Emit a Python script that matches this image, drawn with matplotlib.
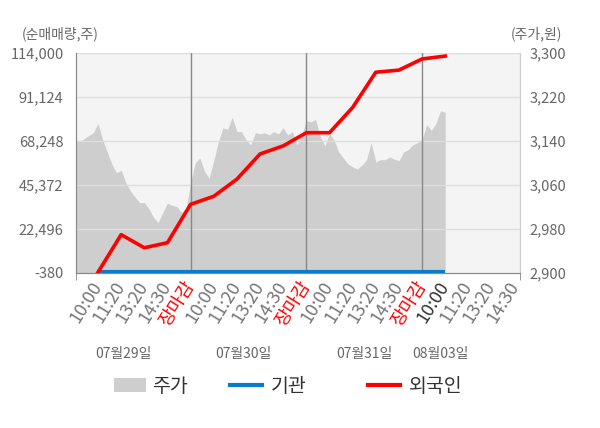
import numpy as np
import matplotlib
matplotlib.use("Agg")
import matplotlib.pyplot as plt
from matplotlib.patches import Rectangle
from matplotlib.lines import Line2D

# ================================
# DATA
# ================================
# x axis in "slots": one slot per time label, a trading day is 5 slots
tick_labels = ["10:00", "11:20", "13:20", "14:30", "장마감",
               "10:00", "11:20", "13:20", "14:30", "장마감",
               "10:00", "11:20", "13:20", "14:30", "장마감",
               "10:00", "11:20", "13:20", "14:30"]
day_labels = ["07월29일", "07월30일", "07월31일", "08월03일"]

# cumulative net buying (shares), one value per time label
foreign = [0, 19560, 12740, 15360, 35300, 39500, 48400, 61500, 65700,
           72550, 72550, 85700, 104000, 105100, 110900, 112400]
institution = [0] * 16

# intraday price (won), sampled every 0.2 slot
price = [3144, 3139, 3144, 3150, 3155, 3172, 3142, 3120, 3098, 3082,
         3087, 3065, 3049, 3038, 3028, 3028, 3017, 3001, 2992, 3010,
         3027, 3023, 3021, 3010, 3017,
         3063, 3100, 3109, 3085, 3072, 3104, 3139, 3164, 3161, 3183,
         3157, 3157, 3142, 3133, 3155, 3153, 3155, 3151, 3157, 3153,
         3164, 3151, 3157, 3133, 3151,
         3177, 3175, 3179, 3148, 3131, 3153, 3142, 3120, 3109, 3098,
         3093, 3089, 3096, 3106, 3137, 3102, 3106, 3106, 3111, 3107,
         3104, 3120, 3124, 3133, 3137,
         3142, 3170, 3159, 3172, 3195, 3192]

left_ticks = [-380, 22496, 45372, 68248, 91124, 114000]
right_ticks = [2900, 2980, 3060, 3140, 3220, 3300]

# ================================
# STYLE
# ================================
plt.rcParams['font.family'] = ['Noto Sans CJK KR', 'DejaVu Sans']
GRAY_TXT = "#666666"
RED = "#ff0000"
BLUE = "#0a7ccc"
AREA = "#cecece"
W, H = 600, 428


def fx(px):
    return px / W


def fy(py):
    return 1 - py / H


def main():
    fig = plt.figure(figsize=(6, 4.28), dpi=100)
    ax = fig.add_axes([fx(76), fy(273), 444 / W, 220 / H])
    ax2 = ax.twinx()
    # lines axis on top, price axis (with background) below
    ax.set_zorder(ax2.get_zorder() + 1)
    ax.patch.set_visible(False)
    ax2.patch.set_visible(True)
    ax2.set_facecolor("#f4f4f4")

    # price area (right axis)
    px = np.arange(len(price)) * 0.2
    ax2.fill_between(px, price, 2900, color=AREA, linewidth=0)
    ax2.set_ylim(2900, 3300)

    # net buying lines (left axis)
    lx = np.arange(1, len(foreign) + 1)
    for y in left_ticks[1:]:
        ax.axhline(y, color="#dddddd", linewidth=1, zorder=1)
    for d in [5, 10, 15]:
        ax.axvline(d, color="#888888", linewidth=1, zorder=2)
    ax.plot(lx, institution, color=BLUE, linewidth=3, zorder=3,
            solid_capstyle="butt")
    ax.plot(lx, foreign, color=RED, linewidth=2.6, zorder=4)
    ax.set_ylim(-380, 114000)
    ax.set_xlim(0.05, 19.23)

    ax.set_yticks(left_ticks)
    ax.set_yticklabels([f"{v:,}" for v in left_ticks])
    ax2.set_yticks(right_ticks)
    ax2.set_yticklabels([f"{v:,}" for v in right_ticks])
    ax.tick_params(axis="y", length=0, pad=9, labelsize=10.5,
                   labelcolor=GRAY_TXT)
    ax2.tick_params(axis="y", length=0, pad=7, labelsize=10.5,
                    labelcolor=GRAY_TXT)

    # x axis
    ax.set_xticks(range(1, len(tick_labels) + 1))
    ax.tick_params(axis="x", length=0, pad=7)
    ax.set_xticklabels(tick_labels, rotation=58, ha="right", va="center",
                       rotation_mode="anchor", fontsize=13)
    for i, t in enumerate(ax.get_xticklabels()):
        if tick_labels[i] == "장마감":
            t.set_color(RED)
        elif i == 15:
            t.set_color("#333333")
        else:
            t.set_color("#777777")
    ax.set_xticks([0.05, 5, 10, 15, 19.23], minor=True)
    ax.tick_params(axis="x", which="minor", length=5, color="#888888")

    for a in (ax, ax2):
        a.spines["top"].set_visible(False)
        a.spines["left"].set_color("#888888")
        a.spines["right"].set_color("#cccccc")
        a.spines["bottom"].set_color("#888888")

    # day labels under the ticks
    for xd, lab in zip([2.1, 7.3, 12.5, 15.8], day_labels):
        ax.text(xd, -0.37, lab, transform=ax.get_xaxis_transform(),
                ha="center", va="center", fontsize=10, color=GRAY_TXT)

    # axis captions
    fig.text(fx(22), fy(34), "(순매매량,주)", ha="left", va="center",
             fontsize=10, color=GRAY_TXT)
    fig.text(fx(562), fy(34), "(주가,원)", ha="right", va="center",
             fontsize=10, color=GRAY_TXT)

    # legend, drawn by hand to keep the original spacing
    fig.add_artist(Rectangle((fx(114), fy(392)), 32 / W, 14 / H,
                             transform=fig.transFigure, facecolor=AREA,
                             edgecolor="none"))
    fig.add_artist(Line2D([fx(230), fx(262)], [fy(385), fy(385)],
                          transform=fig.transFigure, color=BLUE, linewidth=3))
    fig.add_artist(Line2D([fx(368), fx(400)], [fy(385), fy(385)],
                          transform=fig.transFigure, color=RED, linewidth=3))
    for x0, lab in [(152, "주가"), (271, "기관"), (409, "외국인")]:
        fig.text(fx(x0), fy(386), lab, ha="left", va="center",
                 fontsize=14, color="#333333")

    fig.savefig("out.png", dpi=100)


if __name__ == "__main__":
    main()
